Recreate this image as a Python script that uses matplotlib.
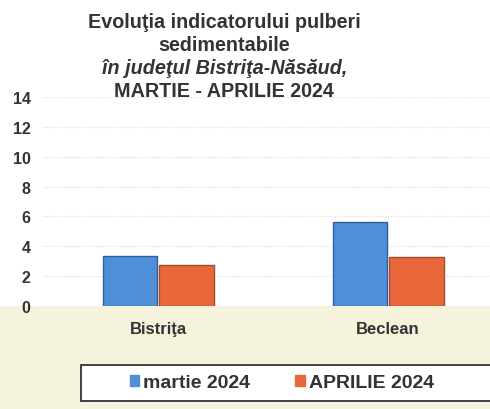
import matplotlib.pyplot as plt
import matplotlib.patches as mpatches
import numpy as np

plt.rcParams['font.family'] = ['Liberation Sans', 'DejaVu Sans']

categories = ['Bistriţa', 'Beclean']
martie = [3.33, 5.6]
aprilie = [2.73, 3.27]
yticks = [0, 2, 4, 6, 8, 10, 12, 14]

fig = plt.figure(figsize=(4.9, 4.1), dpi=100)
fig.patch.set_facecolor('white')

# background axes: cream floor band and the legend box
bg = fig.add_axes([0, 0, 1, 1], zorder=-1)
bg.set_xlim(0, 1)
bg.set_ylim(0, 1)
bg.axis('off')
bg.add_patch(mpatches.Rectangle((0, 0), 1, 0.251, facecolor='#f5f3dc', edgecolor='none'))
bg.add_patch(mpatches.Rectangle((0.165, 0.02), 0.85, 0.088, facecolor='white',
                                edgecolor='#222222', linewidth=1.2))

ax = fig.add_axes([0.088, 0.251, 0.912, 0.510])
ax.set_facecolor('none')
x = np.arange(len(categories))
w = 0.235
ax.bar(x - w / 2 - 0.006, martie, w, color='#4f8fd8', edgecolor='#2f5f9c', linewidth=1.0)
ax.bar(x + w / 2 + 0.006, aprilie, w, color='#e8683c', edgecolor='#a84a30', linewidth=1.0)

ax.set_ylim(0, 14)
ax.set_xlim(-0.5, 1.443)
ax.set_yticks(yticks)
ax.set_yticklabels([str(v) for v in yticks], fontsize=11.5, fontweight='bold', color='#333333')
ax.set_xticks(x)
ax.set_xticklabels(categories, fontsize=12, fontweight='bold', color='#333333')
ax.tick_params(axis='y', length=0, pad=9)
ax.tick_params(axis='x', length=0, pad=11)
ax.grid(axis='y', color='#d8d8d8', linestyle=':', linewidth=0.8)
ax.set_axisbelow(True)
for s in ax.spines.values():
    s.set_visible(False)

title_lines = [('Evoluţia indicatorului pulberi', 'normal', 0.946),
               ('sedimentabile', 'normal', 0.890),
               ('în judeţul Bistriţa-Năsăud,', 'italic', 0.834),
               ('MARTIE - APRILIE 2024', 'normal', 0.776)]
for txt, st, yy in title_lines:
    fig.text(0.458, yy, txt, ha='center', va='center', fontsize=14.2,
             fontweight='bold', style=st, color='#333333')

handles = [mpatches.Patch(color='#4f8fd8', label='martie 2024'),
           mpatches.Patch(color='#e8683c', label='APRILIE 2024')]
leg = fig.legend(handles=handles, loc='center', bbox_to_anchor=(0.575, 0.064),
                 ncol=2, frameon=False, fontsize=14, handlelength=0.5,
                 handleheight=0.5, handletextpad=0.2, columnspacing=2.3, borderaxespad=0)
for t in leg.get_texts():
    t.set_fontweight('bold')
    t.set_color('#333333')

fig.savefig('out.png', dpi=100)
